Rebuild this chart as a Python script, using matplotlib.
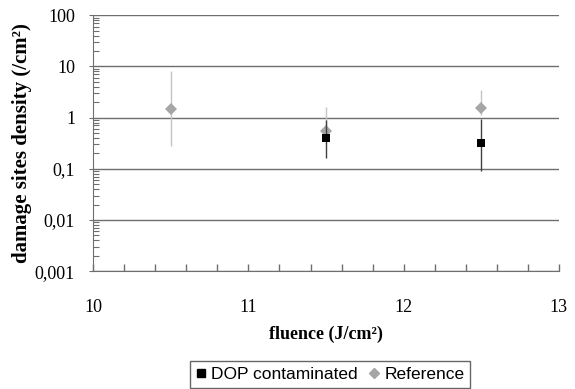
import matplotlib.pyplot as plt
import numpy as np
from matplotlib.ticker import MultipleLocator, FixedLocator, LogLocator, NullFormatter
from matplotlib.lines import Line2D

# donnees
fluence_ref = [10.5, 11.5, 12.5]
dens_ref = [1.45, 0.54, 1.57]
err_ref_low = [0.28, 0.30, 1.10]
err_ref_high = [8.3, 1.6, 3.5]

fluence_dop = [11.5, 12.5]
dens_dop = [0.39, 0.32]
err_dop_low = [0.165, 0.092]
err_dop_high = [0.91, 0.92]

yticks = [0.001, 0.01, 0.1, 1, 10, 100]
ytick_labels = ['0,001', '0,01', '0,1', '1', '10', '100']
xticks = [10, 11, 12, 13]

serif = 'Liberation Serif'
sans = 'Liberation Sans'

fig = plt.figure(figsize=(5.75, 3.89), dpi=100)
ax = fig.add_axes([0.162, 0.303, 0.810, 0.658])

grey_line = '#6e6e6e'
ax.yaxis.grid(True, which='major', color=grey_line, linewidth=1.0)
ax.set_axisbelow(True)

# Reference (dessine en premier, sous les carres)
r = np.array(dens_ref)
yerr_ref = [r - np.array(err_ref_low), np.array(err_ref_high) - r]
ax.errorbar(fluence_ref, dens_ref, yerr=yerr_ref, fmt='D', color='#a6a6a6',
            ecolor='#c4c4c4', elinewidth=1.0, capsize=2.5, capthick=1.0,
            markersize=6, markeredgewidth=0, zorder=3)

d = np.array(dens_dop)
yerr_dop = [d - np.array(err_dop_low), np.array(err_dop_high) - d]
ax.errorbar(fluence_dop, dens_dop, yerr=yerr_dop, fmt='s', color='black',
            ecolor='#404040', elinewidth=1.0, capsize=2.5, capthick=1.0,
            markersize=6, markeredgewidth=0, zorder=4)

ax.set_yscale('log')
ax.set_ylim(0.001, 100)
ax.set_xlim(10, 13)

ax.yaxis.set_major_locator(FixedLocator(yticks))
ax.set_yticklabels(ytick_labels, fontfamily=serif, fontsize=13)
ax.yaxis.set_minor_locator(LogLocator(base=10, subs=np.arange(2, 10)))
ax.yaxis.set_minor_formatter(NullFormatter())
ax.tick_params(axis='y', which='major', direction='out', length=3, pad=10,
               color=grey_line)
ax.tick_params(axis='y', which='minor', direction='in', length=4,
               color=grey_line, width=0.8)

ax.xaxis.set_minor_locator(MultipleLocator(0.2))
ax.set_xticks(xticks)
ax.set_xticklabels([str(v) for v in xticks], fontfamily=serif, fontsize=13)
ax.tick_params(axis='x', which='both', direction='in', length=5, pad=20,
               color=grey_line, width=1.0)

for s in ['top', 'right']:
    ax.spines[s].set_visible(False)
for s in ['left', 'bottom']:
    ax.spines[s].set_color(grey_line)

ax.set_xlabel('fluence (J/cm²)', fontfamily=serif, fontweight='bold',
              fontsize=13)
ax.xaxis.set_label_coords(0.5, -0.212)
ax.set_ylabel('damage sites density (/cm²)', fontfamily=serif,
              fontweight='bold', fontsize=15)
ax.yaxis.set_label_coords(-0.131, 0.5)

handles = [
    Line2D([], [], marker='s', color='black', linestyle='none', markersize=6),
    Line2D([], [], marker='D', color='#a6a6a6', linestyle='none', markersize=5),
]
leg = fig.legend(handles, ['DOP contaminated', 'Reference'], loc='upper center',
                 bbox_to_anchor=(0.574, 0.072), ncol=2, frameon=True,
                 fancybox=False, edgecolor='#404040', handlelength=0.6,
                 handletextpad=0.3, columnspacing=0.6, borderpad=0.35,
                 borderaxespad=0, prop={'family': sans, 'size': 12.5})
leg.get_frame().set_linewidth(1.0)

fig.savefig('out.png', dpi=100)
